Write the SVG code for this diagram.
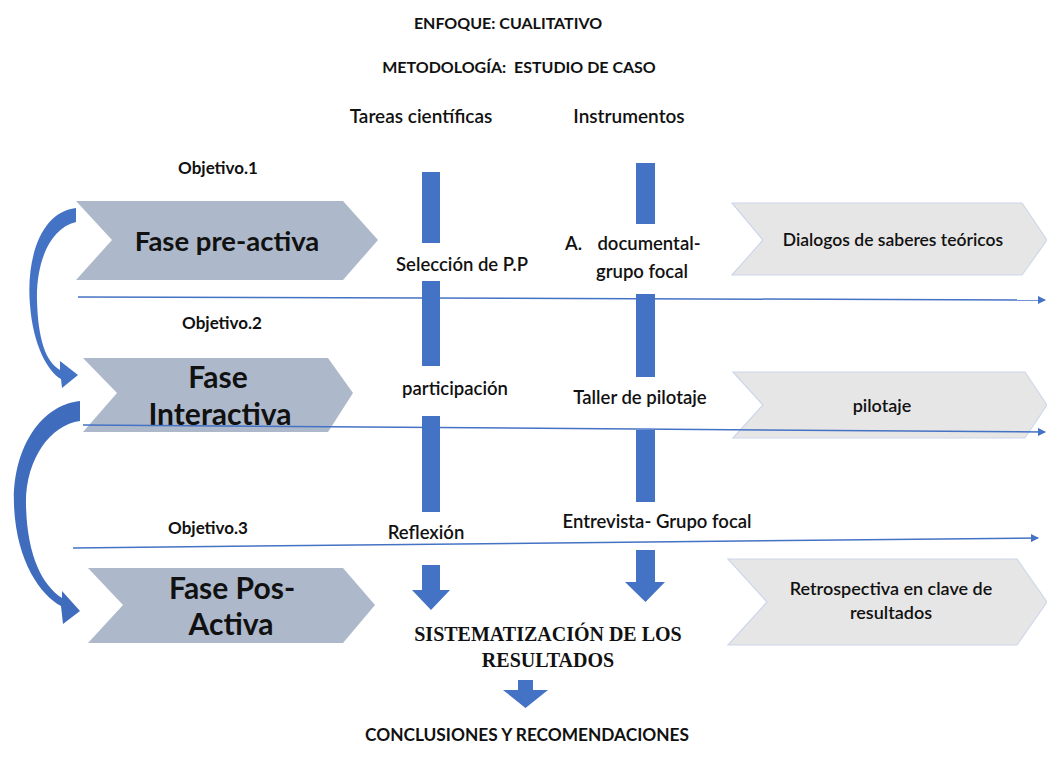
<svg xmlns="http://www.w3.org/2000/svg" width="1047" height="760" viewBox="0 0 1047 760">
<style>
text{font-family:Lato,"Liberation Sans",sans-serif;fill:#111;text-anchor:middle;dominant-baseline:central}
.h{font-size:16px;font-weight:bold}
.col{font-size:19px;font-weight:600}
.obj{font-size:17px;font-weight:bold}
.ph{font-size:30px;font-weight:bold}
.lb{font-size:18.5px;font-weight:600}
.rt{font-size:18px;font-weight:600}
.serif{font-family:"Liberation Serif",serif;font-size:20px;font-weight:bold}
.chevL{fill:#adb9ca}
.chevR{fill:#e7e6e6;stroke:#cdd6ea;stroke-width:1.2}
.bar{fill:#4472c4}
.ln{stroke:#4472c4;stroke-width:1.5;fill:none}
</style>
<defs>
<marker id="ah" markerWidth="8" markerHeight="8" refX="7" refY="4" orient="auto" markerUnits="userSpaceOnUse">
<path d="M0,0 L8,4 L0,8 Z" fill="#4472c4"/>
</marker>
</defs>
<rect width="1047" height="760" fill="#fff"/>

<g id="headers">
<text class="h" x="508" y="22">ENFOQUE: CUALITATIVO</text>
<text class="h" x="519" y="66" xml:space="preserve">METODOLOGÍA:  ESTUDIO DE CASO</text>
<text class="col" x="421" y="115">Tareas científicas</text>
<text class="col" x="629" y="115">Instrumentos</text>
<text class="obj" x="218" y="167">Objetivo.1</text>
<text class="obj" x="222" y="322">Objetivo.2</text>
<text class="obj" x="208" y="527">Objetivo.3</text>
</g>

<g id="fase-preactiva">
<polygon class="chevL" points="76,201 343,201 378,240 343,280 76,280 112,240"/>
<text class="ph" x="227" y="240" style="font-size:27.5px">Fase pre-activa</text>
</g>
<g id="fase-interactiva">
<polygon class="chevL" points="83,358 328,358 353,393 328,432 83,432 117,393"/>
<text class="ph" x="218" y="376">Fase</text>
<text class="ph" x="220" y="413">Interactiva</text>
</g>
<g id="fase-posactiva">
<polygon class="chevL" points="88,568 343,568 375,605 343,643 88,643 123,605"/>
<text class="ph" x="232" y="587">Fase Pos-</text>
<text class="ph" x="231" y="623">Activa</text>
</g>

<g id="dialogos">
<polygon class="chevR" points="732,203 1022,203 1047,240 1022,275 732,275 763,240"/>
<text class="rt" x="893" y="239" style="font-size:17.5px">Dialogos de saberes teóricos</text>
</g>
<g id="pilotaje">
<polygon class="chevR" points="733,372 1025,372 1047,405 1025,438 733,438 763,405"/>
<text class="rt" x="882" y="405">pilotaje</text>
</g>
<g id="retrospectiva">
<polygon class="chevR" points="728,559 1017,559 1047,602 1017,645 728,645 767,602"/>
<text class="rt" x="891" y="588">Retrospectiva en clave de</text>
<text class="rt" x="891" y="612">resultados</text>
</g>

<g id="tareas">
<rect class="bar" x="422" y="172" width="18" height="71"/>
<rect class="bar" x="422" y="281" width="18" height="85"/>
<rect class="bar" x="422" y="416" width="18" height="96"/>
<polygon class="bar" points="422,565 440,565 440,590 450,590 431,610 412,590 422,590"/>
<text class="lb" x="462" y="264">Selección de P.P</text>
<text class="lb" x="455" y="388">participación</text>
<text class="lb" x="426" y="532">Reflexión</text>
</g>

<g id="instrumentos">
<rect class="bar" x="636" y="163" width="19" height="61"/>
<rect class="bar" x="636" y="294" width="19" height="83"/>
<rect class="bar" x="636" y="430" width="19" height="72"/>
<polygon class="bar" points="636,550 655,550 655,582 665,582 645.5,602 625,582 636,582"/>
<text class="lb" x="565" y="243" style="text-anchor:start">A.</text>
<text class="lb" x="649" y="243">documental-</text>
<text class="lb" x="642" y="271">grupo focal</text>
<text class="lb" x="640" y="397">Taller de pilotaje</text>
<text class="lb" x="657" y="521">Entrevista- Grupo focal</text>
</g>

<g id="sistematizacion">
<text class="serif" x="548" y="634">SISTEMATIZACIÓN DE LOS</text>
<text class="serif" x="548" y="660">RESULTADOS</text>
<polygon class="bar" points="518,680 533,680 533,690 548,690 525.5,708 503,690 518,690"/>
</g>
<g id="conclusiones">
<text class="h" x="527" y="734" style="font-size:17.3px">CONCLUSIONES Y RECOMENDACIONES</text>
</g>

<g id="connectors">
<line class="ln" x1="78" y1="297" x2="1045" y2="300" marker-end="url(#ah)"/>
<line class="ln" x1="83" y1="425" x2="1045" y2="432" marker-end="url(#ah)"/>
<line class="ln" x1="73" y1="548" x2="1038" y2="538" marker-end="url(#ah)"/>
<path fill="#4472c4" d="M76,208 C40,212 26,260 30,305 C33,345 48,372 61,379 L62,388 L78,375 L60,361 L60,370 C46,362 38,340 37,300 C36,262 50,228 76,222 Z"/>
<path fill="#3f6cbd" d="M80,401 C40,405 12,450 14,505 C16,560 40,595 61,606 L63,624 L80,611 L62,591 L62,598 C42,585 27,555 26,505 C25,460 50,425 80,421 Z"/>
</g>
</svg>
